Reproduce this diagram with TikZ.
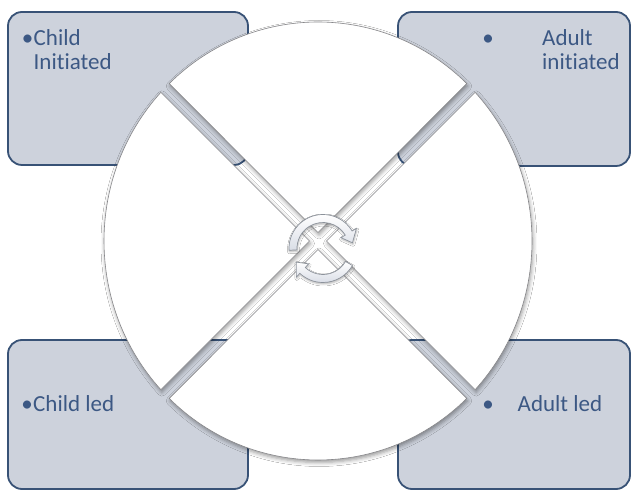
\documentclass[tikz,border=0pt]{standalone}
\usepackage{fontspec}
\setmainfont{Carlito}[Ligatures=NoCommon]
\usetikzlibrary{shadows.blur}
\definecolor{boxfill}{RGB}{205,210,220}
\definecolor{boxline}{RGB}{56,82,118}
\definecolor{txt}{RGB}{60,88,132}
\definecolor{rimgray}{RGB}{135,135,138}
\definecolor{arrowgray}{RGB}{140,146,155}
\definecolor{arrowfill}{RGB}{218,222,231}
\begin{document}
\begin{tikzpicture}[x=1pt,y=1pt,
  box/.style={draw=boxline, line width=1.8pt, fill=boxfill, rounded corners=14pt, inner sep=0pt},
  lbl/.style={text=txt, font=\fontsize{23}{23}\selectfont, inner sep=0pt, anchor=base west},
  bul/.style={text=txt, font=\fontsize{23}{23}\selectfont, inner sep=0pt, anchor=base},
  piece/.style={fill=white, draw=rimgray, line width=0.6pt},
  pshadow/.style={blur shadow={shadow xshift=1pt, shadow yshift=-2.5pt, shadow blur radius=4pt, shadow opacity=40}},
  arr/.style={draw=arrowgray, line width=0.7pt, top color=white, bottom color=arrowfill},
  ashadow/.style={blur shadow={shadow xshift=0.5pt, shadow yshift=-1.5pt, shadow blur radius=2pt, shadow opacity=30}},
]
\useasboundingbox (0,0) rectangle (632,492);
\fill[white] (0,0) rectangle (632,492);

% corner boxes
\node[box, minimum width=240pt, minimum height=153pt] (tl) at (128,403.5) {};
\node[box, minimum width=232pt, minimum height=154pt] (tr) at (514,403) {};
\node[box, minimum width=240pt, minimum height=149pt] (bl) at (128,77.5) {};
\node[box, minimum width=232pt, minimum height=149pt] (br) at (514,77.5) {};

% texts
\node[bul] (tlb) at (27.5,446) {•};
\node[lbl] (tl1) at (33.5,446) {Child};
\node[lbl] (tl2) at (33.5,422) {Initiated};
\node[bul] (trb) at (488,446) {•};
\node[lbl] (tr1) at (542,446) {Adult};
\node[lbl] (tr2) at (542,422) {initiated};
\node[bul] (blb) at (27,80.3) {•};
\node[lbl] (bl1) at (33,80.3) {Child led};
\node[bul] (brb) at (488,80.3) {•};
\node[lbl] (br1) at (517.5,80.3) {Adult led};

% circle pieces (ellipse rx=214, ry=219)
\coordinate (c) at (318,251);
\foreach \vx/\vy/\a/\b in {0/8.49/45.95/134.05, -8.49/0/137.25/222.75, 0/-8.49/225.95/314.05, 8.49/0/-42.75/42.75}
  \path[pshadow] ([shift={(\vx pt,\vy pt)}]c) -- ([shift={(c)}]\a:214pt and 219pt) arc[start angle=\a, end angle=\b, x radius=214pt, y radius=219pt] -- cycle;
\foreach \vx/\vy/\a/\b in {0/8.49/45.95/134.05, -8.49/0/137.25/222.75, 0/-8.49/225.95/314.05, 8.49/0/-42.75/42.75}
  \draw[piece] ([shift={(\vx pt,\vy pt)}]c) -- ([shift={(c)}]\a:214pt and 219pt) arc[start angle=\a, end angle=\b, x radius=214pt, y radius=219pt] -- cycle;

% circular arrows
\coordinate (ac) at (323,243.5);
\path[ashadow] ([shift={(ac)}]183:34pt) arc[start angle=183, end angle=31, radius=34pt]
  -- ([shift={(ac)}]31:39pt) -- ([shift={(ac)}]11:30pt) -- ([shift={(ac)}]31:21pt)
  -- ([shift={(ac)}]31:26pt) arc[start angle=31, end angle=183, radius=26pt] -- cycle;
\path[ashadow] ([shift={(ac)}]-30:34pt) arc[start angle=-30, end angle=-133, radius=34pt]
  -- ([shift={(ac)}]-133:39pt) -- ([shift={(ac)}]-153:30pt) -- ([shift={(ac)}]-133:21pt)
  -- ([shift={(ac)}]-133:26pt) arc[start angle=-133, end angle=-30, radius=26pt] -- cycle;
\draw[arr] ([shift={(ac)}]183:34pt) arc[start angle=183, end angle=31, radius=34pt]
  -- ([shift={(ac)}]31:39pt) -- ([shift={(ac)}]11:30pt) -- ([shift={(ac)}]31:21pt)
  -- ([shift={(ac)}]31:26pt) arc[start angle=31, end angle=183, radius=26pt] -- cycle;
\draw[arr] ([shift={(ac)}]-30:34pt) arc[start angle=-30, end angle=-133, radius=34pt]
  -- ([shift={(ac)}]-133:39pt) -- ([shift={(ac)}]-153:30pt) -- ([shift={(ac)}]-133:21pt)
  -- ([shift={(ac)}]-133:26pt) arc[start angle=-133, end angle=-30, radius=26pt] -- cycle;
\end{tikzpicture}
\end{document}
